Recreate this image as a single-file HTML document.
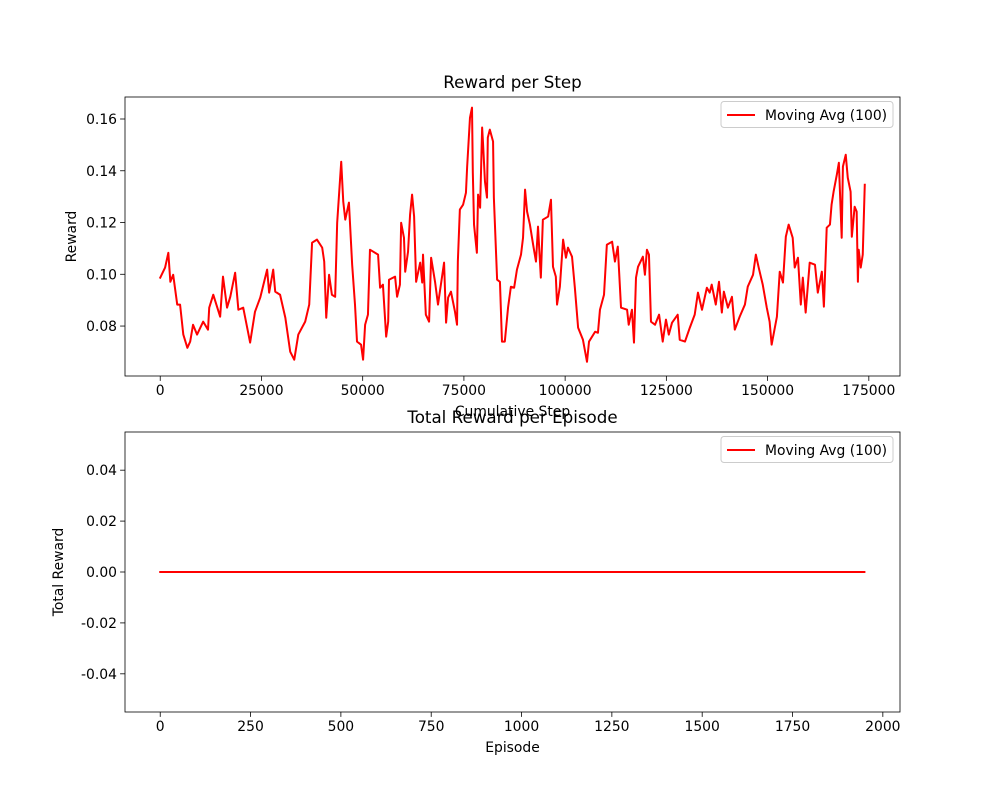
<!DOCTYPE html>
<html><head><meta charset="utf-8">
<style>
html,body{margin:0;padding:0;background:#fff;}
svg{display:block;font-family:"DejaVu Sans","Liberation Sans",sans-serif;}
</style></head>
<body>
<svg id="fig" width="1000" height="800" viewBox="0 0 1000 800" xmlns="http://www.w3.org/2000/svg">
<rect width="1000" height="800" fill="#fff"/>
</svg>
<script>
// ---- Top chart data: reward per step (moving avg 100) ----
const stepValues = [0,1200,2000,2500,3200,4200,4900,5700,6700,7400,8100,9100,10600,11800,12100,13100,14800,15500,16500,17300,18500,19300,20500,22200,23400,24700,26400,26900,27900,28400,29600,30900,32100,33100,34100,35800,36800,37500,38700,40000,40500,41000,41700,42400,43200,43700,44700,45200,45700,46600,47400,48100,48600,49600,50100,50600,51300,51800,53800,54300,55000,55800,56300,56500,58000,58500,59200,59500,60200,60500,61200,61700,62200,62700,63200,64200,64700,64900,65600,66400,66900,67900,68600,69600,70100,70600,71100,71800,72800,73300,73500,74000,74800,75500,75800,76500,77000,77200,77500,78200,78500,79000,79500,79700,80200,80700,80900,81400,82200,82400,83200,83900,84400,85100,85900,86600,87400,88100,89100,89600,90100,90600,91300,92100,92800,93300,94000,94500,95800,96500,97000,97700,98000,98700,99500,100200,100700,101700,102400,103200,104400,105400,105900,107400,108100,108600,109600,110300,111600,112300,113000,113800,115300,115700,116500,117000,117500,118000,119200,119700,120200,120700,121200,122200,123200,124100,124900,125600,126400,127800,128300,129600,130800,132000,132800,133800,135000,135700,136200,137200,138000,138700,139200,140200,141200,141900,143100,144400,145100,146400,147100,147800,148800,149800,150500,151000,152300,153000,153800,154500,155200,156200,156700,157500,158200,158700,159400,160400,161700,162400,163400,163900,164600,165400,165800,166300,167100,167600,168300,168600,169300,169800,170500,170800,171500,172000,172300,172500,173000,173500,174000];
const rewardValues = [0.0987,0.1026,0.1083,0.0971,0.0998,0.0883,0.0883,0.0767,0.0716,0.0740,0.0805,0.0767,0.0817,0.0786,0.0871,0.0921,0.0836,0.0991,0.0871,0.0913,0.1006,0.0863,0.0871,0.0736,0.0855,0.0910,0.1018,0.0929,0.1018,0.0933,0.0921,0.0832,0.0701,0.0670,0.0767,0.0817,0.0883,0.1122,0.1134,0.1103,0.1049,0.0832,0.0998,0.0921,0.0913,0.1199,0.1435,0.1281,0.1211,0.1277,0.1037,0.0883,0.0740,0.0728,0.0670,0.0805,0.0844,0.1095,0.1076,0.0948,0.0960,0.0759,0.0817,0.0979,0.0991,0.0913,0.0960,0.1199,0.1141,0.1010,0.1087,0.1230,0.1308,0.1223,0.0971,0.1045,0.0968,0.1076,0.0844,0.0817,0.1064,0.0968,0.0883,0.0991,0.1045,0.0813,0.0910,0.0933,0.0855,0.0805,0.1049,0.1250,0.1269,0.1315,0.1416,0.1605,0.1644,0.1393,0.1192,0.1083,0.1308,0.1257,0.1567,0.1513,0.1358,0.1296,0.1528,0.1559,0.1513,0.1296,0.0979,0.0971,0.0740,0.0740,0.0871,0.0952,0.0948,0.1018,0.1076,0.1141,0.1327,0.1242,0.1192,0.1114,0.1049,0.1184,0.0987,0.1211,0.1223,0.1288,0.1029,0.0991,0.0883,0.0952,0.1134,0.1064,0.1103,0.1068,0.0948,0.0794,0.0747,0.0662,0.0740,0.0778,0.0774,0.0863,0.0921,0.1114,0.1126,0.1049,0.1107,0.0871,0.0863,0.0805,0.0863,0.0736,0.0987,0.1029,0.1068,0.0998,0.1095,0.1076,0.0817,0.0805,0.0844,0.0740,0.0825,0.0767,0.0813,0.0844,0.0747,0.0740,0.0794,0.0844,0.0929,0.0863,0.0948,0.0929,0.0960,0.0883,0.0971,0.0852,0.0933,0.0871,0.0913,0.0786,0.0836,0.0883,0.0952,0.0998,0.1076,0.1026,0.0960,0.0871,0.0817,0.0728,0.0836,0.1010,0.0968,0.1145,0.1192,0.1141,0.1026,0.1064,0.0883,0.0987,0.0852,0.1045,0.1037,0.0929,0.1010,0.0875,0.1180,0.1192,0.1269,0.1319,0.1385,0.1431,0.1141,0.1416,0.1462,0.1373,0.1319,0.1145,0.1261,0.1242,0.0971,0.1095,0.1026,0.1076,0.1346];
const topXTicks = [0,25000,50000,75000,100000,125000,150000,175000];
const topYTicks = [0.08,0.10,0.12,0.14,0.16];
// ---- Bottom chart data: total reward per episode ----
const episodeCount = 1950;
const episodeRewardLevel = 0;
const botXTicks = [0,250,500,750,1000,1250,1500,1750,2000];
const botYTicks = [-0.04,-0.02,0.00,0.02,0.04];

const NS = "http://www.w3.org/2000/svg";
const svg = document.getElementById('fig');
function mk(tag, attrs, parent){
  const e = document.createElementNS(NS, tag);
  for (const k in attrs) e.setAttribute(k, attrs[k]);
  (parent||svg).appendChild(e);
  return e;
}
function txt(s, attrs, parent){ const t = mk('text', attrs, parent); t.textContent = s; return t; }

function drawAxes(cfg){
  const g = mk('g', {});
  
  
  const L=cfg.L,T=cfg.T,R=cfg.R,B=cfg.B;
  const sx = v => L + (v-cfg.x0)/(cfg.x1-cfg.x0)*(R-L);
  const sy = v => B - (v-cfg.y0)/(cfg.y1-cfg.y0)*(B-T);
  // ticks
  cfg.xt.forEach(v=>{
    const x = sx(v);
    const tk = mk('line',{x1:x,x2:x,y1:B,y2:B+4.9,stroke:'#000','stroke-width':0.8},g);
    
    
    const lb = txt(String(v),{x:x,y:B+19,'text-anchor':'middle','font-size':'13.9px',fill:'#000'},g);
    
    
  });
  cfg.yt.forEach(v=>{
    const y = sy(v);
    const tk = mk('line',{x1:L-4.9,x2:L,y1:y,y2:y,stroke:'#000','stroke-width':0.8},g);
    
    
    const lb = txt(v.toFixed(2),{x:L-8,y:y+5,'text-anchor':'end','font-size':'13.9px',fill:'#000'},g);
    
    
  });
  // series
  const pts = cfg.xs.map((x,i)=>sx(x).toFixed(2)+','+sy(cfg.ys[i]).toFixed(2)).join(' ');
  const line = mk('polyline',{points:pts,fill:'none',stroke:'#ff0000','stroke-width':2,'stroke-linejoin':'round','stroke-linecap':'square'},g);
  
  
  // frame
  const fr = mk('rect',{x:L,y:T,width:R-L,height:B-T,fill:'none',stroke:'#000','stroke-width':0.8},g);
  
  
  // title & labels
  const ti = txt(cfg.title,{x:(L+R)/2,y:T-9,'text-anchor':'middle','font-size':'16.7px',fill:'#000'},g);
  
  
  const xl = txt(cfg.xlabel,{x:(L+R)/2,y:B+40,'text-anchor':'middle','font-size':'13.9px',fill:'#000'},g);
  
  
  const yl = txt(cfg.ylabel,{x:cfg.ylx,y:(T+B)/2,'text-anchor':'middle','font-size':'13.9px',fill:'#000',transform:'rotate(-90 '+cfg.ylx+' '+((T+B)/2)+')'},g);
  
  
  // legend
  const lg = mk('g',{},g);
  
  
  mk('rect',{x:721,y:T+4.5,width:172,height:26,rx:3,fill:'#fff','fill-opacity':0.8,stroke:'#ccc','stroke-width':1},lg);
  const ls = mk('line',{x1:727,x2:755,y1:T+18,y2:T+18,stroke:'#ff0000','stroke-width':2},lg);
  
  
  const lt = txt('Moving Avg (100)',{x:765,y:T+23,'font-size':'13.9px',fill:'#000'},lg);
  
  
}

drawAxes({name:'reward-per-step-chart',L:125,T:97,R:900,B:376,
  x0:-8700,x1:182700,y0:0.0607,y1:0.1685,
  xt:topXTicks,yt:topYTicks,xs:stepValues,ys:rewardValues,
  title:'Reward per Step',xlabel:'Cumulative Step',ylabel:'Reward',ylx:76});

const epX = [], epY = [];
for (let i=0;i<episodeCount;i++){ epX.push(i); epY.push(episodeRewardLevel); }
drawAxes({name:'total-reward-per-episode-chart',L:125,T:432,R:900,B:712,
  x0:-97.5,x1:2047.5,y0:-0.055,y1:0.055,
  xt:botXTicks,yt:botYTicks,xs:epX,ys:epY,
  title:'Total Reward per Episode',xlabel:'Episode',ylabel:'Total Reward',ylx:63});
</script>
</body></html>
